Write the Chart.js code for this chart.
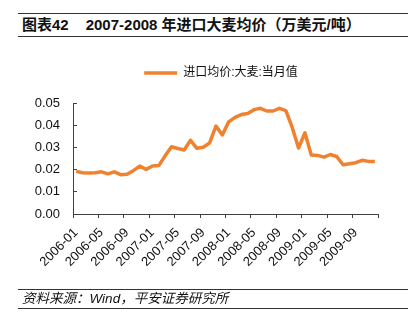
<!DOCTYPE html>
<html lang="zh">
<head>
    <meta charset="UTF-8">
    <title>进口大麦均价</title>
    <style>
        body {
            margin: 0;
            padding: 0;
            width: 419px;
            height: 331px;
            overflow: hidden;
            background: white;
            position: relative;
            font-family: "Liberation Sans", Arial, "Noto Sans CJK SC", sans-serif;
        }
        #titleBar {
            position: absolute;
            left: 18px;
            top: 13px;
            width: 390px;
            height: 22px;
            border-top: 1.5px solid #333;
            border-bottom: 1.5px solid #333;
            font-size: 15px;
            font-weight: bold;
            line-height: 22px;
            color: #111;
        }
        #titleBar span.num { margin-left: 4px; }
        #titleBar span.txt { margin-left: 17px; }
        #chartBox {
            position: absolute;
            left: 0;
            top: 40px;
            width: 442px;
            height: 250px;
        }
        #source {
            position: absolute;
            left: 18px;
            top: 289px;
            width: 390px;
            height: 18px;
            border-top: 1.5px solid #333;
            border-bottom: 1.5px solid #333;
            font-size: 13.5px;
            font-style: italic;
            line-height: 18px;
            color: #111;
        }
        #source span { margin-left: 4px; }
    </style>
</head>
<body>
    <div id="titleBar"><span class="num">图表42</span><span class="txt">2007-2008 年进口大麦均价（万美元/吨）</span></div>
    <div id="chartBox"><canvas id="barleyChart" width="442" height="250"></canvas></div>
    <div id="source"><span>资料来源：Wind，平安证券研究所</span></div>

    <script src="https://cdn.jsdelivr.net/npm/chart.js"></script>
    <script>
        const seriesName = "进口均价:大麦:当月值";
        const months = [
            "2006-01", "2006-02", "2006-03", "2006-04", "2006-05", "2006-06", "2006-07", "2006-08", "2006-09", "2006-10", "2006-11", "2006-12",
            "2007-01", "2007-02", "2007-03", "2007-04", "2007-05", "2007-06", "2007-07", "2007-08", "2007-09", "2007-10", "2007-11", "2007-12",
            "2008-01", "2008-02", "2008-03", "2008-04", "2008-05", "2008-06", "2008-07", "2008-08", "2008-09", "2008-10", "2008-11", "2008-12",
            "2009-01", "2009-02", "2009-03", "2009-04", "2009-05", "2009-06", "2009-07", "2009-08", "2009-09", "2009-10", "2009-11", "2009-12"
        ];
        const price = [
            0.0192, 0.0186, 0.0185, 0.0186, 0.0190, 0.0181, 0.0190, 0.0177, 0.0179, 0.0195, 0.0216, 0.0201,
            0.0216, 0.0218, 0.0262, 0.0303, 0.0295, 0.0288, 0.0332, 0.0296, 0.0301, 0.0320, 0.0396, 0.0356,
            0.0415, 0.0435, 0.0448, 0.0453, 0.0470, 0.0476, 0.0464, 0.0464, 0.0476, 0.0466, 0.0390, 0.0297,
            0.0366, 0.0266, 0.0264, 0.0256, 0.0268, 0.0259, 0.0222, 0.0226, 0.0231, 0.0242, 0.0237, 0.0236
        ];
        const tickMonths = ["2006-01", "2006-05", "2006-09", "2007-01", "2007-05", "2007-09",
                            "2008-01", "2008-05", "2008-09", "2009-01", "2009-05", "2009-09"];
        const yTicks = [0, 0.01, 0.02, 0.03, 0.04, 0.05];

        const lineColor = "#F0812F";
        const axisColor = "#404040";
        const fontFamily = "'Liberation Sans', Arial, 'Noto Sans CJK SC', sans-serif";
        const labelFont = { family: fontFamily, size: 13 };

        // ticks sit on the boundaries between months, like the original
        const xTickValues = tickMonths.map(m => months.indexOf(m) - 0.5).concat([months.length - 0.5]);

        new Chart(document.getElementById("barleyChart"), {
            type: "line",
            data: {
                datasets: [{
                    label: seriesName,
                    data: months.map((m, i) => ({ x: i, y: price[i] })),
                    borderColor: lineColor,
                    backgroundColor: lineColor,
                    borderWidth: 3.5,
                    pointRadius: 0,
                    tension: 0,
                    borderJoinStyle: "round"
                }]
            },
            options: {
                responsive: false,
                animation: false,
                devicePixelRatio: 1,
                layout: { padding: { left: 0, right: 0, top: 0, bottom: 0 } },
                plugins: {
                    legend: {
                        position: "top",
                        labels: {
                            usePointStyle: true,
                            pointStyle: "line",
                            pointStyleWidth: 33,
                            boxHeight: 12,
                            padding: 27,
                            color: "#111",
                            font: { family: fontFamily, size: 12 }
                        }
                    },
                    tooltip: { enabled: false }
                },
                scales: {
                    x: {
                        type: "linear",
                        min: -0.5,
                        max: months.length - 0.5,
                        afterBuildTicks: s => { s.ticks = xTickValues.map(v => ({ value: v })); },
                        afterFit: s => { s.height = 76; },
                        grid: { display: true, drawOnChartArea: false, tickLength: 4, color: axisColor },
                        border: { display: true, color: axisColor, width: 1 },
                        ticks: {
                            autoSkip: false,
                            minRotation: 45,
                            maxRotation: 45,
                            padding: 7,
                            labelOffset: 3,
                            color: "#111",
                            font: labelFont,
                            callback: v => months[v + 0.5] && tickMonths.includes(months[v + 0.5]) ? months[v + 0.5] : ""
                        }
                    },
                    // empty spacer between legend and plot
                    xTop: {
                        type: "linear",
                        position: "top",
                        afterFit: s => { s.height = 14; },
                        grid: { display: false },
                        border: { display: false },
                        ticks: { display: false }
                    },
                    y: {
                        min: 0,
                        max: 0.05,
                        afterBuildTicks: s => { s.ticks = yTicks.map(v => ({ value: v })); },
                        afterFit: s => { s.width = 73; },
                        grid: { display: true, drawOnChartArea: false, tickLength: -4, color: axisColor },
                        border: { display: true, color: axisColor, width: 1 },
                        ticks: {
                            padding: 17,
                            color: "#111",
                            font: labelFont,
                            callback: v => v.toFixed(2)
                        }
                    },
                    yRight: {
                        position: "right",
                        afterFit: s => { s.width = 64; },
                        grid: { display: false },
                        border: { display: false },
                        ticks: { display: false }
                    }
                }
            }
        });
    </script>
</body>
</html>
